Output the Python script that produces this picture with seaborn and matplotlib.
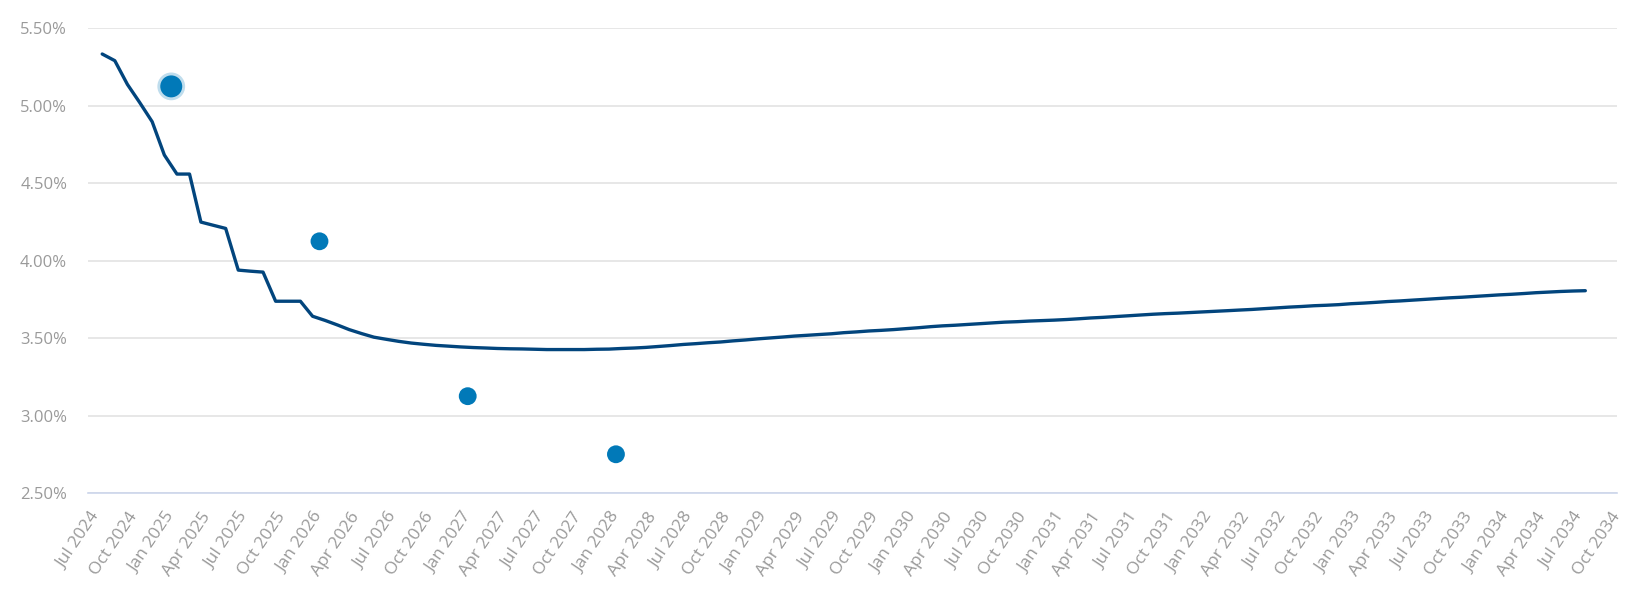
import pandas as pd
import matplotlib
matplotlib.use("Agg")
import matplotlib.pyplot as plt
import matplotlib.dates as mdates
from matplotlib.ticker import FuncFormatter, MultipleLocator
import seaborn as sns

# monthly implied rate path, Jul 2024 .. Jul 2034 (mid-month points)
curve_start = "2024-07-01"
curve_values = [
    5.334, 5.291, 5.138, 5.022, 4.897, 4.682, 4.559, 4.559, 4.249, 4.228,
    4.208, 3.939, 3.932, 3.926, 3.738, 3.738, 3.738, 3.641, 3.614, 3.584,
    3.555, 3.529, 3.506, 3.492, 3.479, 3.468, 3.460, 3.453, 3.448, 3.443,
    3.439, 3.436, 3.433, 3.431, 3.430, 3.428, 3.426, 3.426, 3.426, 3.426,
    3.428, 3.429, 3.433, 3.436, 3.440, 3.446, 3.452, 3.459, 3.464, 3.470,
    3.475, 3.482, 3.488, 3.495, 3.501, 3.507, 3.513, 3.518, 3.523, 3.528,
    3.535, 3.540, 3.546, 3.550, 3.555, 3.561, 3.567, 3.574, 3.579, 3.583,
    3.588, 3.593, 3.598, 3.603, 3.606, 3.610, 3.613, 3.616, 3.620, 3.625,
    3.630, 3.634, 3.639, 3.644, 3.649, 3.654, 3.658, 3.661, 3.665, 3.669,
    3.673, 3.677, 3.681, 3.685, 3.690, 3.695, 3.700, 3.704, 3.709, 3.712,
    3.716, 3.722, 3.726, 3.731, 3.736, 3.740, 3.745, 3.750, 3.755, 3.760,
    3.764, 3.769, 3.774, 3.779, 3.783, 3.788, 3.793, 3.797, 3.801, 3.804,
    3.806,
]

# dot plot medians
dot_dates = ["2025-01-01", "2026-01-01", "2027-01-01", "2028-01-01"]
dot_values = [5.125, 4.125, 3.125, 2.75]
highlight_idx = 0

curve_df = pd.DataFrame({
    "date": pd.date_range(curve_start, periods=len(curve_values), freq="MS") + pd.Timedelta(days=14),
    "rate": curve_values,
})
dots_df = pd.DataFrame({"date": pd.to_datetime(dot_dates), "rate": dot_values})

sns.set_style("white")
plt.rcParams["font.family"] = ["Open Sans", "DejaVu Sans"]

fig = plt.figure(figsize=(16.39, 5.92), dpi=100)
ax = fig.add_axes([88 / 1639, 1 - 493 / 592, (1617 - 88) / 1639, (493 - 28.3) / 592])

line_color = "#02457d"
dot_color = "#0179b8"
label_color = "#9a9a9a"

sns.lineplot(data=curve_df, x="date", y="rate", ax=ax, color=line_color, linewidth=2.4, zorder=3)

big = dots_df.iloc[[highlight_idx]]
small = dots_df.drop(index=highlight_idx)
sns.scatterplot(data=big, x="date", y="rate", ax=ax, s=400, color=dot_color, alpha=0.25,
                edgecolor="none", zorder=4, legend=False)
sns.scatterplot(data=big, x="date", y="rate", ax=ax, s=250, color=dot_color,
                edgecolor="none", zorder=5, legend=False)
sns.scatterplot(data=small, x="date", y="rate", ax=ax, s=165, color=dot_color,
                edgecolor="none", zorder=5, legend=False)

ax.set_ylim(2.5, 5.5)
ax.set_xlim(pd.Timestamp("2024-06-10"), pd.Timestamp("2034-10-01"))
ax.yaxis.set_major_locator(MultipleLocator(0.5))
ax.yaxis.set_major_formatter(FuncFormatter(lambda v, p: f"{v:.2f}%"))
ax.xaxis.set_major_locator(mdates.MonthLocator(bymonth=[1, 4, 7, 10]))
ax.xaxis.set_major_formatter(mdates.DateFormatter("%b %Y"))

ax.grid(True, axis="y", color="#e3e3e3", linewidth=1.2)
ax.set_axisbelow(True)
for side in ["top", "right", "left"]:
    ax.spines[side].set_visible(False)
ax.spines["bottom"].set_color("#ccd6eb")
ax.spines["bottom"].set_linewidth(1.2)

ax.tick_params(axis="y", length=0, pad=15, labelsize=12, labelcolor=label_color)
ax.tick_params(axis="x", length=10, width=1.2, color="#ccd6eb", pad=5,
               labelsize=12.5, labelcolor=label_color)
for lab in ax.get_xticklabels():
    lab.set_rotation(56)
    lab.set_ha("right")
    lab.set_va("center")
    lab.set_rotation_mode("anchor")

ax.set_xlabel("")
ax.set_ylabel("")

fig.savefig("out.png", dpi=100, facecolor="white")
